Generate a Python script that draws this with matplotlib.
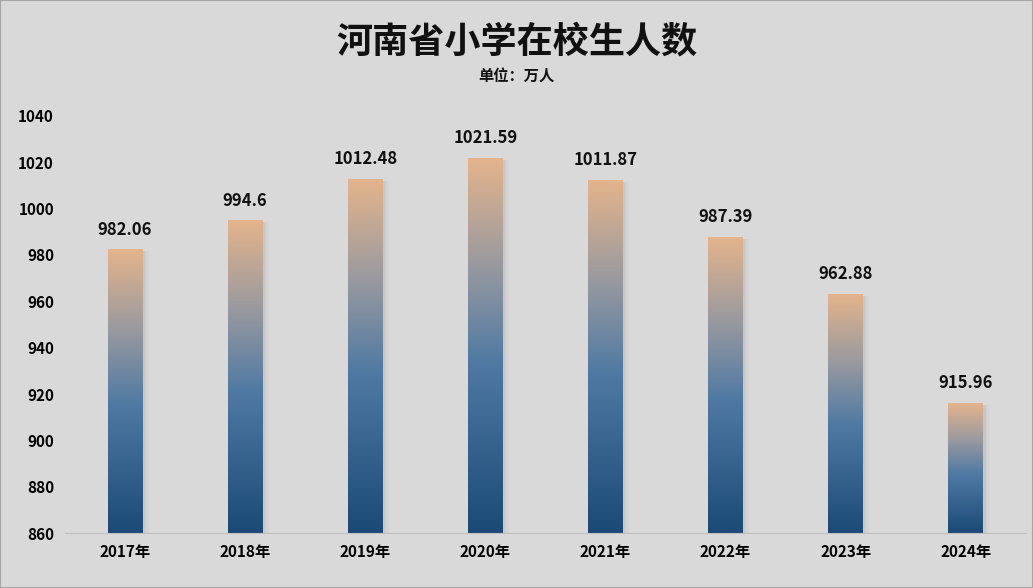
import matplotlib.pyplot as plt
import numpy as np
from matplotlib.colors import LinearSegmentedColormap
from matplotlib.patches import Rectangle

plt.rcParams['font.family'] = ['Noto Sans CJK SC', 'DejaVu Sans']

years = ['2017年', '2018年', '2019年', '2020年', '2021年', '2022年', '2023年', '2024年']
values = [982.06, 994.6, 1012.48, 1021.59, 1011.87, 987.39, 962.88, 915.96]
labels = ['982.06', '994.6', '1012.48', '1021.59', '1011.87', '987.39', '962.88', '915.96']

ymin, ymax = 860, 1040
bg = '#d9d9d9'

cmap = LinearSegmentedColormap.from_list(
    'bar', [(0, '#1b4a77'), (0.45, '#4f79a3'), (0.72, '#9a9a9f'), (1, '#e4b48c')])
grad = np.linspace(0, 1, 256).reshape(-1, 1)

fig = plt.figure(figsize=(10.33, 5.88), dpi=100, facecolor=bg)
ax = fig.add_axes([0.063, 0.093, 0.93, 0.71], facecolor=bg)

w = 0.29
for i, v in enumerate(values):
    # soft shadow on the right
    for k, a in enumerate([0.10, 0.07, 0.04]):
        ax.add_patch(Rectangle((i - w / 2 + 0.02 + k * 0.015, ymin), w, v - ymin - 0.5,
                               facecolor='#888888', alpha=a, edgecolor='none', zorder=1))
    ax.imshow(grad, cmap=cmap, origin='lower', aspect='auto',
              extent=(i - w / 2, i + w / 2, ymin, v), zorder=2)
    ax.text(i, v + 5, labels[i], ha='center', va='bottom', fontsize=12,
            fontweight='bold', color='#111111')

ax.set_xlim(-0.5, len(values) - 0.5)
ax.set_ylim(ymin, ymax)
ax.set_yticks(range(860, 1041, 20))
ax.set_xticks(range(len(years)))
ax.set_xticklabels(years, fontsize=11, fontweight='bold')
ax.tick_params(axis='y', labelsize=11, length=0, pad=8)
ax.tick_params(axis='x', length=0, pad=8)
for t in ax.get_yticklabels():
    t.set_fontweight('bold')
for s in ['top', 'right', 'left']:
    ax.spines[s].set_visible(False)
ax.spines['bottom'].set_color('#bfbfbf')

fig.text(0.5, 0.928, '河南省小学在校生人数', ha='center', va='center',
         fontsize=26, fontweight='bold', color='#111111')
fig.text(0.5, 0.872, '单位：万人', ha='center', va='center',
         fontsize=11, fontweight='bold', color='#111111')

fig.patches.append(Rectangle((0, 0), 1, 1, transform=fig.transFigure, fill=False,
                             edgecolor='#a6a6a6', linewidth=1.5))
fig.savefig('out.png', dpi=100, facecolor=bg)
